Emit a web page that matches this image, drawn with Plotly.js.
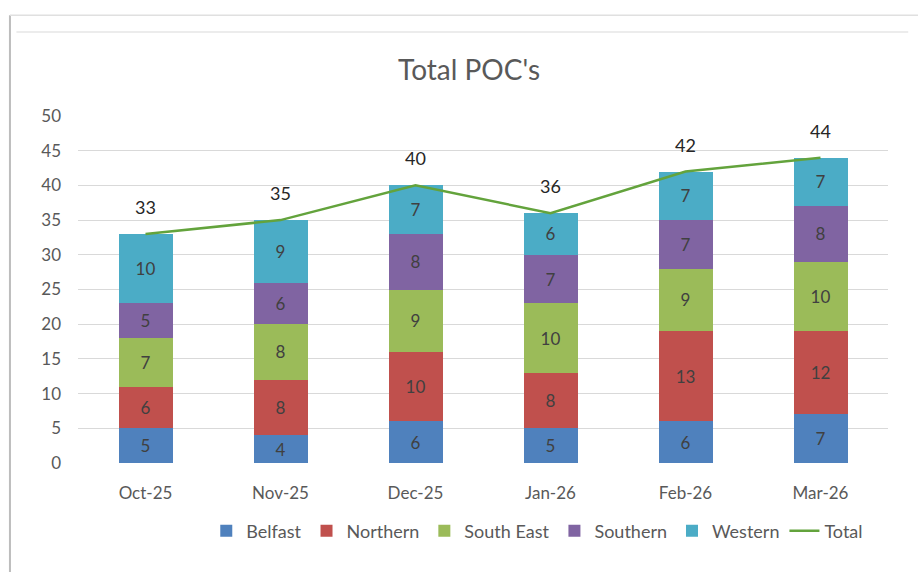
<!DOCTYPE html>
<html><head><meta charset="utf-8">
<script src="https://cdn.plot.ly/plotly-3.0.1.min.js"></script>
<style>html,body{margin:0;padding:0;background:#fff;}#chart{width:918px;height:572px;}</style>
</head><body><div id="chart"></div>
<script>
const months = ["Oct-25","Nov-25","Dec-25","Jan-26","Feb-26","Mar-26"];
const belfast = [5,4,6,5,6,7];
const northern = [6,8,10,8,13,12];
const southEast = [7,8,9,10,9,10];
const southern = [5,6,8,7,7,8];
const western = [10,9,7,6,7,7];
const totals = [33,35,40,36,42,44];

const seriesNames = ["Belfast","Northern","South East","Southern","Western"];
const seriesVals = [belfast,northern,southEast,southern,western];
const colors = ["#4F81BD","#C0504D","#9BBB59","#8064A2","#4BACC6"];
const font = "Lato, 'Open Sans', sans-serif";

const traces = seriesNames.map((n,i)=>({
  type:"bar", name:n, x:months, y:seriesVals[i],
  marker:{color:colors[i]},
  text:seriesVals[i].map(String), textposition:"inside", insidetextanchor:"middle",
  textfont:{family:font,size:17,color:"#404040"}, hoverinfo:"y+name"
}));
traces.push({
  type:"scatter", mode:"lines", name:"Total", x:months, y:totals,
  line:{color:"#63A33C",width:2.5}
});

const annotations = months.map((m,i)=>({
  x:m, y:totals[i], xref:"x", yref:"y", text:String(totals[i]), showarrow:false,
  yshift:27, font:{family:font,size:18,color:"#262626"}
}));

const layout = {
  width:918, height:572,
  margin:{l:78,r:30,t:116,b:109},
  paper_bgcolor:"#fff", plot_bgcolor:"#fff",
  barmode:"stack", bargap:0.6,
  showlegend:true,
  title:{text:"Total POC's", x:0.511, xanchor:"center", y:0.877, yanchor:"middle",
    font:{family:font,size:28,color:"#595959"}},
  xaxis:{type:"category", showgrid:false, zeroline:false, showline:false,
    ticks:"", ticklabelstandoff:18, tickfont:{family:font,size:17,color:"#595959"}},
  yaxis:{range:[0,50], dtick:5, tick0:0, showgrid:true, gridcolor:"#D9D9D9", gridwidth:1,
    zeroline:false, showline:false, ticks:"", ticklabelstandoff:16,
    tickfont:{family:font,size:17,color:"#595959"}},
  legend:{orientation:"h", x:0.567, xanchor:"center", y:-0.196, yanchor:"middle",
    font:{family:font,size:18,color:"#595959"}, traceorder:"normal", itemwidth:30},
  annotations:annotations,
  shapes:[
    {type:"line",xref:"paper",yref:"paper",x0:-0.076,x1:1.025,y0:1.242,y1:1.242,line:{color:"#E6E6E6",width:1.5}},
    {type:"line",xref:"paper",yref:"paper",x0:-0.084,x1:-0.084,y0:1.29,y1:-0.32,line:{color:"#BDBDBD",width:2}},
    {type:"line",xref:"paper",yref:"paper",x0:-0.084,x1:1.04,y0:1.29,y1:1.29,line:{color:"#E0E0E0",width:1.5}}
  ]
};
Plotly.newPlot("chart", traces, layout, {displayModeBar:false, staticPlot:true});
</script></body></html>
